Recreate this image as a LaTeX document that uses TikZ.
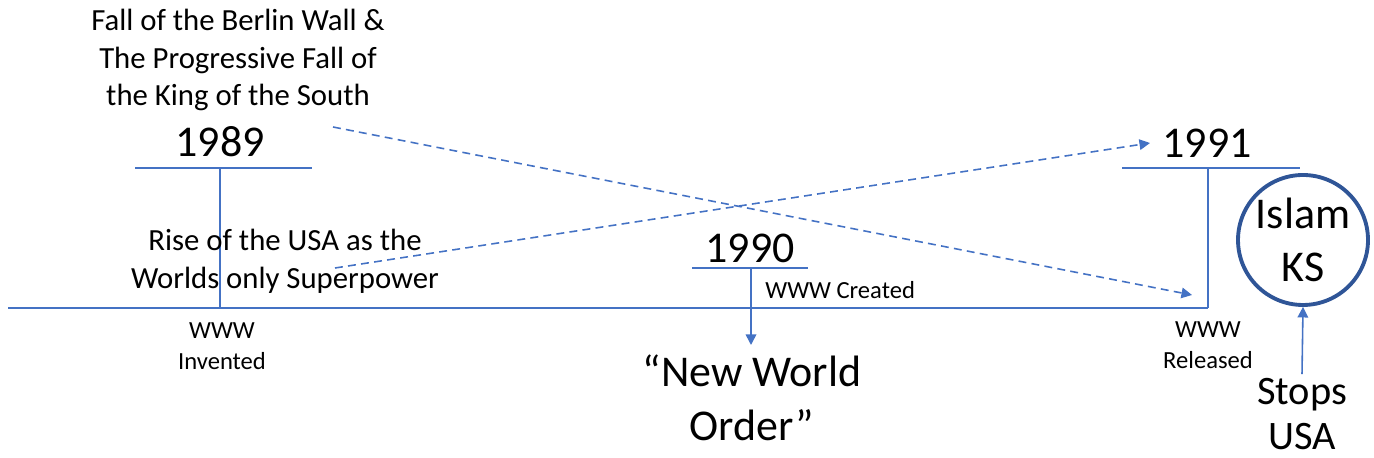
\documentclass[tikz,border=0pt]{standalone}
\usepackage{fontspec}
\setmainfont{Carlito}
\usetikzlibrary{arrows.meta}
\definecolor{lineblue}{HTML}{4472C4}
\definecolor{ringblue}{HTML}{2F5597}
\tikzset{
  bar/.style={draw=lineblue, line width=0.9pt},
  tip/.style={-{Triangle[width=6pt,length=6pt]}},
  hint/.style={bar, dashed, dash pattern=on 4.5pt off 3pt, tip},
  year/.style={font=\fontsize{25}{30}\selectfont, inner sep=0pt},
  story/.style={font=\fontsize{17.5}{21.5}\selectfont, inner sep=0pt},
  www/.style={font=\fontsize{14}{17.5}\selectfont, inner sep=0pt},
  big/.style={font=\fontsize{25}{30.5}\selectfont, inner sep=0pt}
}
\begin{document}
\begin{tikzpicture}[every text node part/.style={align=center}]
    \useasboundingbox (0,0) rectangle (27.48,9.16);

    % --------------------------------------------------------- %
    % ------------- time line
    % --------------------------------------------------------- %
    \coordinate (start) at (0.16,3.0);
    \coordinate (end) at (24.16,3.0);
    \draw[bar] (start) -- (end);

    % --------------------------------------------------------- %
    % ------------ 1989
    % --------------------------------------------------------- %
    \node[year] (y1989) at (4.4,6.32) {1989};
    \coordinate (b1989l) at (2.7,5.8);
    \coordinate (b1989r) at (6.24,5.8);
    \coordinate (b1989m) at (4.4,5.8);
    \draw[bar] (b1989l) -- (b1989r);
    \draw[bar] (b1989m) -- (b1989m |- start);
    \node[story] (berlin) at (4.76,7.96) {Fall of the Berlin Wall \& \\ The Progressive Fall of \\ the King of the South};
    \node[story] (rise) at (5.7,3.94) {Rise of the USA as the \\ Worlds only Superpower};
    \node[www] (invented) at (4.44,2.24) {WWW \\ Invented};

    % --------------------------------------------------------- %
    % ------------ 1990
    % --------------------------------------------------------- %
    \node[year] (y1990) at (15.0,4.2) {1990};
    \coordinate (b1990l) at (13.84,3.8);
    \coordinate (b1990r) at (16.16,3.8);
    \coordinate (b1990m) at (15.02,3.8);
    \draw[bar] (b1990l) -- (b1990r);
    \node[www, anchor=west] (created) at (15.3,3.36) {WWW Created};
    \node[big] (order) at (15.04,1.2) {``New World \\ Order''};
    \coordinate (oarrow) at (15.02,2.26);
    \draw[bar, tip] (b1990m) -- (oarrow);

    % --------------------------------------------------------- %
    % ------------ 1991
    % --------------------------------------------------------- %
    \node[year] (y1991) at (24.14,6.3) {1991};
    \coordinate (b1991l) at (22.44,5.8);
    \coordinate (b1991r) at (26.0,5.8);
    \coordinate (b1991m) at (24.16,5.8);
    \draw[bar] (b1991l) -- (b1991r);
    \draw[bar] (b1991m) -- (end);
    \node[www] (released) at (24.16,2.26) {WWW \\ Released};

    % --- Islam node
    \node[big, draw=ringblue, line width=2.2pt, circle, minimum size=2.6cm] (islam) at (26.06,4.36) {Islam \\ KS};
    \node[font=\fontsize{23}{26}\selectfont, inner sep=0pt] (stops) at (26.04,0.88) {Stops \\ USA};
    \draw[bar, tip] ([yshift=2pt]stops.north) -- (islam.south);

    % --------------------------------------------------------- %
    % ------------ dashed links
    % --------------------------------------------------------- %
    \coordinate (fromberlin) at (6.66,6.62);
    \coordinate (toend) at (23.84,3.26);
    \draw[hint] (fromberlin) -- (toend);
    \coordinate (fromrise) at (6.7,3.8);
    \coordinate (to1991) at (23.0,6.3);
    \draw[hint] (fromrise) -- (to1991);

\end{tikzpicture}
\end{document}
